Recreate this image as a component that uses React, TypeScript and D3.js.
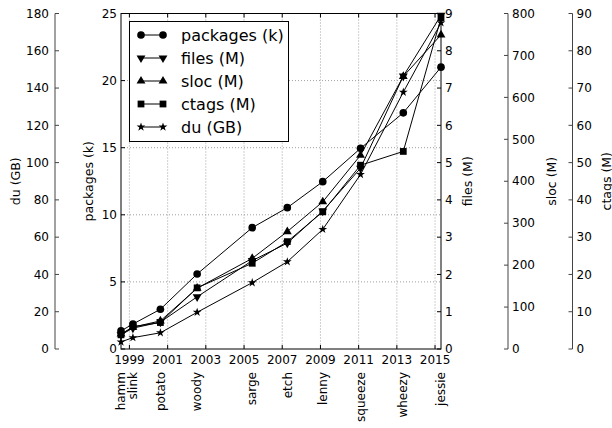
import * as d3 from "d3";

const releases = ["hamm", "slink", "potato", "woody", "sarge", "etch", "lenny", "squeeze", "wheezy", "jessie"];
const releaseDates = [
  "1998-07-24", "1999-03-09", "2000-08-15", "2002-07-19", "2005-06-06",
  "2007-04-08", "2009-02-14", "2011-02-06", "2013-05-04", "2015-04-25",
];
const packages = [1.35, 1.86, 2.96, 5.59, 9.04, 10.53, 12.47, 14.95, 17.6, 21.0];
const files = [0.38, 0.56, 0.72, 1.4, 2.37, 2.84, 3.7, 4.85, 7.32, 8.95];
const sloc = [36, 52, 67, 145, 216, 280, 351, 462, 650, 749];
const ctags = [3.8, 6.0, 7.1, 16.4, 23.0, 28.8, 36.8, 49.3, 53.0, 88.8];
const du = [3.8, 6.1, 8.7, 19.7, 35.6, 46.8, 64.2, 93.6, 137.8, 175];

const yearTicks = [1999, 2001, 2003, 2005, 2007, 2009, 2011, 2013, 2015];
const pkgTicks = [0, 5, 10, 15, 20, 25];
const filesTicks = [0, 1, 2, 3, 4, 5, 6, 7, 8, 9];
const slocTicks = [0, 100, 200, 300, 400, 500, 600, 700, 800];
const ctagsTicks = [0, 10, 20, 30, 40, 50, 60, 70, 80, 90];
const duTicks = [0, 20, 40, 60, 80, 100, 120, 140, 160, 180];

const FONT = "DejaVu Sans, sans-serif";
const parse = d3.timeParse("%Y-%m-%d");

type Scale = d3.ScaleLinear<number, number>;

function SideAxis({ scale, ticks, x, side, label, labelX }: {
  scale: Scale; ticks: number[]; x: number; side: "left" | "right"; label: string; labelX: number;
}) {
  const r = scale.range();
  const dir = side === "left" ? 1 : -1; // tick direction
  const cy = (r[0] + r[1]) / 2;
  return (
    <g>
      <line x1={x} x2={x} y1={r[0]} y2={r[1]} stroke="#444" strokeWidth={1} />
      {ticks.map((t) => (
        <g key={t}>
          <line x1={x} x2={x + dir * 4} y1={scale(t)} y2={scale(t)} stroke="#444" />
          <text
            x={side === "left" ? x - 6 : x + 4}
            y={scale(t)}
            dy="0.35em"
            textAnchor={side === "left" ? "end" : "start"}
            fontSize={12}
          >
            {t}
          </text>
        </g>
      ))}
      <text transform={`translate(${labelX},${cy}) rotate(-90)`} textAnchor="middle" dy="0.35em" fontSize={12.5}>
        {label}
      </text>
    </g>
  );
}

export default function App() {
  const W = 612, H = 428;
  const left = 121, right = 441, top = 13.5, bottom = 349;
  const dates = releaseDates.map((d) => parse(d)!);
  const x = d3.scaleTime().domain(d3.extent(dates) as [Date, Date]).range([left, right]);
  const yPkg = d3.scaleLinear().domain([0, 25]).range([bottom, top]);
  const yFiles = d3.scaleLinear().domain([0, 9]).range([bottom, top]);
  const ySloc = d3.scaleLinear().domain([0, 800]).range([bottom, top]);
  const yCtags = d3.scaleLinear().domain([0, 90]).range([bottom, top]);
  const yDu = d3.scaleLinear().domain([0, 180]).range([bottom, top]);

  const series = [
    { label: "packages (k)", values: packages, y: yPkg, sym: d3.symbolCircle, size: 46, rot: 0 },
    { label: "files (M)", values: files, y: yFiles, sym: d3.symbolTriangle, size: 34, rot: 180 },
    { label: "sloc (M)", values: sloc, y: ySloc, sym: d3.symbolTriangle, size: 34, rot: 0 },
    { label: "ctags (M)", values: ctags, y: yCtags, sym: d3.symbolSquare, size: 46, rot: 0 },
    { label: "du (GB)", values: du, y: yDu, sym: d3.symbolStar, size: 24, rot: 0 },
  ];

  const yearX = (yr: number) => x(new Date(yr, 0, 1));

  return (
    <div style={{ position: "fixed", left: 0, top: 0 }}>
      <svg width={W} height={H} fontFamily={FONT} style={{ display: "block", background: "#fff" }}>
        <rect width={W} height={H} fill="#fff" />
        {/* grid */}
        {yearTicks.map((yr) => (
          <line key={yr} x1={yearX(yr)} x2={yearX(yr)} y1={top} y2={bottom} stroke="#777" strokeWidth={0.7} strokeDasharray="1,2" />
        ))}
        {pkgTicks.slice(1, -1).map((t) => (
          <line key={t} x1={left} x2={right} y1={yPkg(t)} y2={yPkg(t)} stroke="#777" strokeWidth={0.7} strokeDasharray="1,2" />
        ))}

        {/* series */}
        {series.map((s) => {
          const line = d3.line<number>().x((_, i) => x(dates[i])).y((v) => s.y(v));
          const path = d3.symbol(s.sym, s.size)()!;
          return (
            <g key={s.label}>
              <path d={line(s.values)!} fill="none" stroke="#000" strokeWidth={1} />
              {s.values.map((v, i) => (
                <path key={i} d={path} transform={`translate(${x(dates[i])},${s.y(v)}) rotate(${s.rot})`} fill="#000" />
              ))}
            </g>
          );
        })}

        {/* frame */}
        <rect x={left} y={top} width={right - left} height={bottom - top} fill="none" stroke="#000" strokeWidth={1} />

        {/* x ticks */}
        {yearTicks.map((yr) => (
          <g key={yr}>
            <line x1={yearX(yr)} x2={yearX(yr)} y1={bottom} y2={bottom - 4} stroke="#000" />
            <line x1={yearX(yr)} x2={yearX(yr)} y1={top} y2={top + 4} stroke="#000" />
            <text x={yearX(yr)} y={bottom + 15} textAnchor="middle" fontSize={12}>{yr}</text>
          </g>
        ))}
        {/* release names */}
        {releases.map((r, i) => (
          <text key={r} transform={`translate(${x(dates[i])},372) rotate(-90)`} textAnchor="end" dy="0.35em" fontSize={12}>
            {r}
          </text>
        ))}

        {/* left packages axis */}
        {pkgTicks.map((t) => (
          <g key={t}>
            <line x1={left} x2={left + 4} y1={yPkg(t)} y2={yPkg(t)} stroke="#000" />
            <text x={left - 4} y={yPkg(t)} dy="0.35em" textAnchor="end" fontSize={12}>{t}</text>
          </g>
        ))}
        <text transform={`translate(89,${(top + bottom) / 2}) rotate(-90)`} textAnchor="middle" dy="0.35em" fontSize={12.5}>
          packages (k)
        </text>

        {/* right files axis */}
        {filesTicks.map((t) => (
          <g key={t}>
            <line x1={right} x2={right - 4} y1={yFiles(t)} y2={yFiles(t)} stroke="#000" />
            <text x={right + 4} y={yFiles(t)} dy="0.35em" textAnchor="start" fontSize={12}>{t}</text>
          </g>
        ))}
        <text transform={`translate(468,${(top + bottom) / 2}) rotate(-90)`} textAnchor="middle" dy="0.35em" fontSize={12.5}>
          files (M)
        </text>

        <SideAxis scale={yDu} ticks={duTicks} x={55} side="left" label="du (GB)" labelX={16} />
        <SideAxis scale={ySloc} ticks={slocTicks} x={508} side="right" label="sloc (M)" labelX={552} />
        <SideAxis scale={yCtags} ticks={ctagsTicks} x={572.5} side="right" label="ctags (M)" labelX={607} />

        {/* legend */}
        <g>
          <rect x={129.5} y={21.5} width={159} height={120} fill="#fff" stroke="#000" strokeWidth={1} />
          {series.map((s, i) => {
            const cy = 35 + i * 23;
            const path = d3.symbol(s.sym, s.size)()!;
            return (
              <g key={s.label}>
                <line x1={141} x2={163} y1={cy} y2={cy} stroke="#000" />
                {[141, 163].map((mx) => (
                  <path key={mx} d={path} transform={`translate(${mx},${cy}) rotate(${s.rot})`} fill="#000" />
                ))}
                <text x={181} y={cy} dy="0.35em" fontSize={16}>{s.label}</text>
              </g>
            );
          })}
        </g>
      </svg>
    </div>
  );
}
